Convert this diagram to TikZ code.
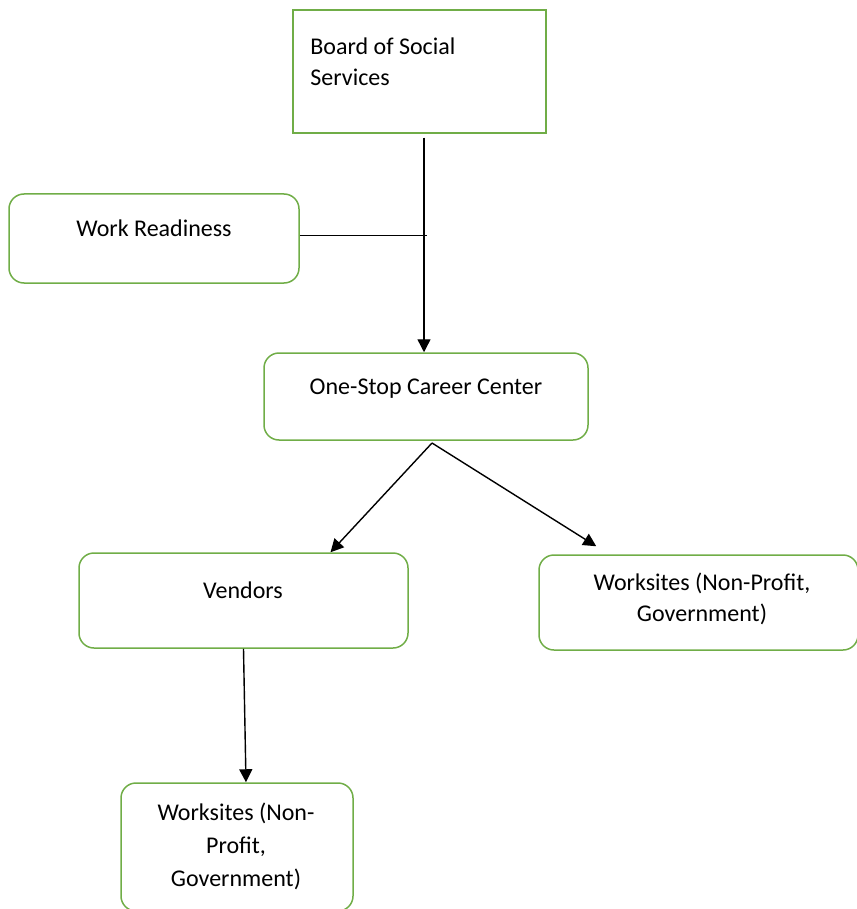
\documentclass[tikz,border=0pt]{standalone}
\usepackage{fontspec}
\setmainfont{Carlito}
\usetikzlibrary{arrows.meta}
\usetikzlibrary{calc}
\definecolor{boxgreen}{RGB}{112,173,71}

\tikzset{
	plainbox/.style={draw=boxgreen, line width=0.75pt, minimum width=#1, inner sep=0pt},
	roundbox/.style={plainbox=#1, rounded corners=7.5pt},
	txt/.style={inner sep=0pt, align=center, font=\fontsize{12pt}{15.5pt}\selectfont},
	flow/.style={-{Triangle[length=6.5pt,width=6.5pt]}, line width=0.7pt},
}

\begin{document}
\begin{tikzpicture}
	[x=0.5pt, y=-0.5pt];
	\useasboundingbox (0,0) rectangle (856,909);

	%Boxes
	\node[plainbox=126.5pt, minimum height=61.5pt] (board) at (419.5,71.5) {};
	\node[roundbox=145pt, minimum height=44.5pt] (work) at (154,238.5) {};
	\node[roundbox=162pt, minimum height=43.5pt] (center) at (426,396.5) {};
	\node[roundbox=164.5pt, minimum height=47.5pt] (vendors) at (243.5,600.5) {};
	\node[roundbox=159.5pt, minimum height=47.5pt] (sitesR) at (698.5,602.5) {};
	\node[roundbox=116pt, minimum height=64pt] (sitesB) at (237,847) {};

	%Texts
	\node[txt, anchor=north west, align=left] (boardtxt) at (310,37) {Board of Social\\Services};
	\node[txt, anchor=base] (worktxt) at (154,236) {Work Readiness};
	\node[txt, anchor=base] (centertxt) at (426,394) {One-Stop Career Center};
	\node[txt, anchor=base] (vendorstxt) at (243,598) {Vendors};
	\node[txt, anchor=north] (sitesRtxt) at (702,573) {Worksites (Non-Profit,\\Government)};
	\node[txt, anchor=north, font=\fontsize{12pt}{16.5pt}\selectfont] (sitesBtxt) at (236,803) {Worksites (Non-\\Profit,\\Government)};

	%Connectors
	\coordinate (join) at (424,235.7);
	\coordinate (split) at (432,443);
	\draw[flow] ($(board.south -| join)+(0,4)$) -- (center.north -| join);
	\draw[line width=0.7pt] (work.east |- join) -- ($(join)+(3,0)$);
	\draw[flow] (split) -- ([xshift=43.5pt]vendors.north);
	\draw[flow] (split) -- ([xshift=29pt, yshift=4pt]sitesR.north west);
	\draw[flow] (vendors.south) -- ([xshift=4.5pt]sitesB.north);
\end{tikzpicture}
\end{document}
